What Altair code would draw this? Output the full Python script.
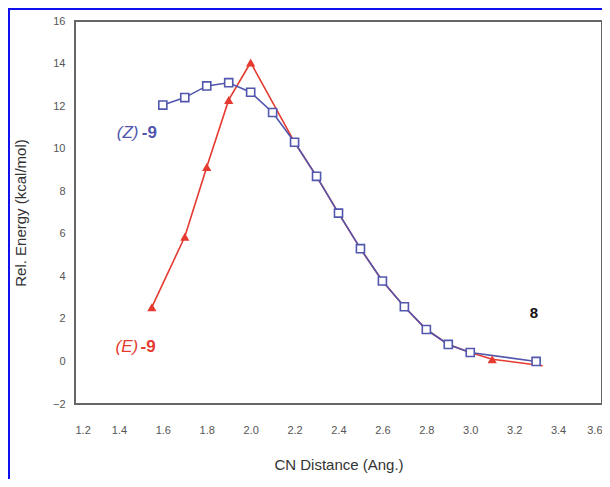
import altair as alt
import pandas as pd

# (Z)-9 series
z_x = [1.6, 1.7, 1.8, 1.9, 2.0, 2.1, 2.2, 2.3, 2.4, 2.5, 2.6, 2.7, 2.8, 2.9, 3.0, 3.3]
z_y = [12.05, 12.4, 12.95, 13.1, 12.65, 11.7, 10.3, 8.7, 6.97, 5.3, 3.78, 2.57, 1.5, 0.8, 0.42, 0.0]

# (E)-9 series (line), and which points carry a marker
e_x = [1.55, 1.7, 1.8, 1.9, 2.0, 2.2, 2.3, 2.4, 2.5, 2.6, 2.7, 2.8, 2.9, 3.0, 3.1, 3.33]
e_y = [2.55, 5.86, 9.14, 12.29, 14.05, 10.3, 8.7, 6.97, 5.3, 3.78, 2.57, 1.5, 0.8, 0.42, 0.1, -0.2]
e_marked = [True, True, True, True, True, False, False, False, False, False,
            False, False, False, False, True, False]

x_ticks = [1.2, 1.4, 1.6, 1.8, 2.0, 2.2, 2.4, 2.6, 2.8, 3.0, 3.2, 3.4, 3.6]
y_ticks = [-2, 0, 2, 4, 6, 8, 10, 12, 14, 16]

# annotation labels
z_label = {"a": "(Z)", "b": "-9", "x": 1.39, "y": 10.75}
e_label = {"a": "(E)", "b": "-9", "x": 1.385, "y": 0.7}
p_label = {"t": "8", "x": 3.29, "y": 2.3}

BLUE = "#5257ad"
RED = "#e53a30"
FONT = "Liberation Sans"

z_df = pd.DataFrame({"x": z_x, "y": z_y})
e_df = pd.DataFrame({"x": e_x, "y": e_y, "m": e_marked})
em_df = e_df[e_df["m"]]

xs = alt.Scale(domain=[1.2, 3.6], nice=False, zero=False)
ys = alt.Scale(domain=[-2, 16], nice=False, zero=False)

X = alt.X("x:Q", scale=xs, axis=alt.Axis(
    values=x_ticks, format=".1f", title="CN Distance (Ang.)",
    labelPadding=20, titlePadding=22, domain=False, ticks=False, grid=False))
Y = alt.Y("y:Q", scale=ys, axis=alt.Axis(
    values=y_ticks, format="d", title="Rel. Energy (kcal/mol)",
    labelPadding=10, titlePadding=24, domain=False, ticks=False, grid=False))

base_z = alt.Chart(z_df)
base_e = alt.Chart(e_df)

e_line = base_e.mark_line(color=RED, strokeWidth=1.6).encode(x=X, y=Y, order="x:Q")
z_line = base_z.mark_line(color=BLUE, strokeWidth=1.6).encode(x=X, y=Y, order="x:Q")
e_pts = alt.Chart(em_df).mark_point(shape="triangle-up", filled=True, color=RED,
                                    size=85, opacity=1).encode(x=X, y=Y)
z_pts = base_z.mark_point(shape="square", filled=True, fill="white", stroke=BLUE,
                          strokeWidth=1.6, size=65, opacity=1).encode(x=X, y=Y)

def lbl(d, color):
    df = pd.DataFrame([d])
    a = alt.Chart(df).mark_text(align="left", baseline="middle", fontSize=17,
                                font=FONT, fontStyle="italic", color=color).encode(
        x=alt.X("x:Q", scale=xs), y=alt.Y("y:Q", scale=ys), text="a:N")
    b = alt.Chart(df).mark_text(align="left", baseline="middle", fontSize=17, dx=25,
                                font=FONT, fontWeight="bold", color=color).encode(
        x=alt.X("x:Q", scale=xs), y=alt.Y("y:Q", scale=ys), text="b:N")
    return a + b

p_df = pd.DataFrame([p_label])
p_txt = alt.Chart(p_df).mark_text(align="center", baseline="middle", fontSize=15,
                                  font=FONT, fontWeight="bold", color="#111").encode(
    x=alt.X("x:Q", scale=xs), y=alt.Y("y:Q", scale=ys), text="t:N")

border = alt.Chart(pd.DataFrame({"k": [0]})).mark_rect(
    fill=None, stroke="#1010ee", strokeWidth=2, clip=False).encode(
    x=alt.value(-66), x2=alt.value(534), y=alt.value(-12), y2=alt.value(470))

chart = alt.layer(
    e_line, z_line, e_pts, z_pts, lbl(z_label, BLUE), lbl(e_label, RED), p_txt, border
).properties(
    width=527, height=383,
    autosize=alt.AutoSizeParams(type="none"),
    padding={"left": 67, "top": 13, "right": 0, "bottom": 75},
    background="white",
).configure_view(
    stroke="#666666", strokeWidth=2
).configure_axis(
    labelFont=FONT, labelFontSize=11, labelColor="#555555",
    titleFont=FONT, titleFontSize=15, titleColor="#333333", titleFontWeight="normal"
)

chart.save("out.html", embed_options={"renderer": "svg", "actions": False})
